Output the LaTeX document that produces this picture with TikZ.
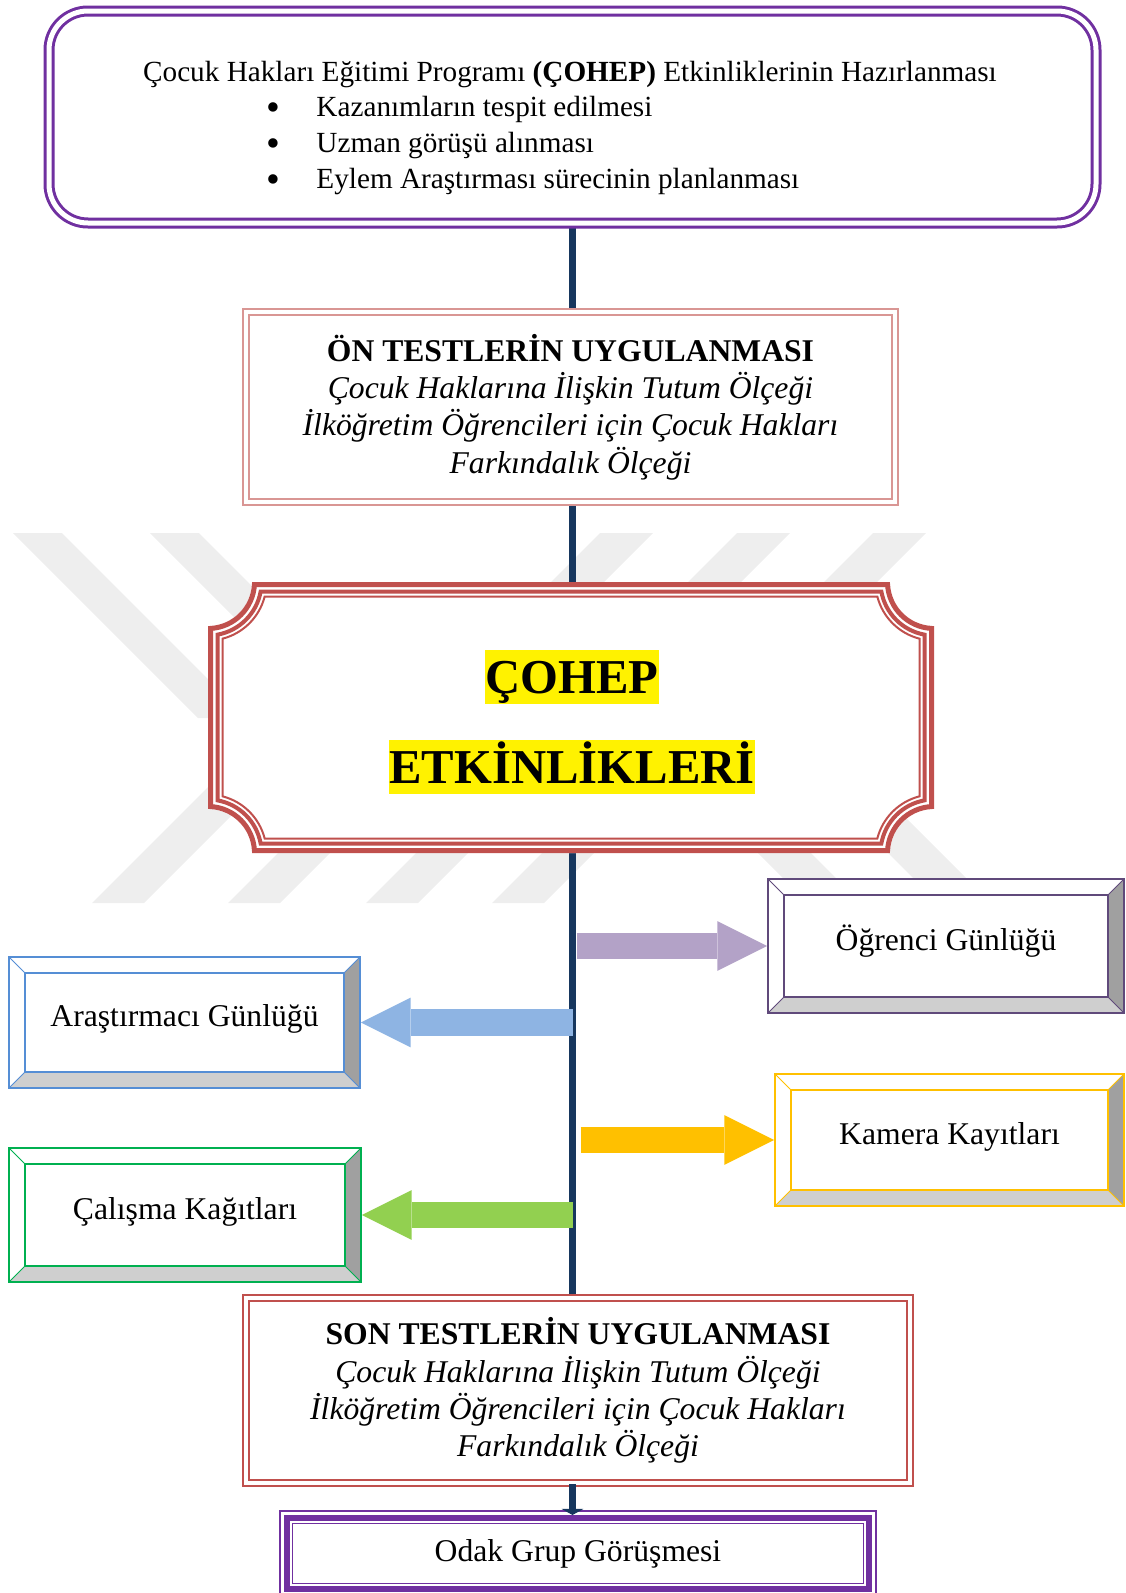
\documentclass[tikz,border=0pt]{standalone}
\usepackage{fontspec}
\setmainfont{Liberation Serif}
\usetikzlibrary{arrows.meta,calc}
\pgfdeclarelayer{wm}
\pgfdeclarelayer{bg}
\pgfsetlayers{wm,bg,main}
\def\px{0.4107pt}
\definecolor{spinecol}{HTML}{17375E}
\definecolor{prepcol}{HTML}{7030A0}
\definecolor{oncol}{HTML}{D99694}
\definecolor{chepcol}{HTML}{C0504D}
\definecolor{ogrcol}{HTML}{604A7B}
\definecolor{ograrr}{HTML}{B3A2C7}
\definecolor{aracol}{HTML}{558ED5}
\definecolor{araarr}{HTML}{8EB4E3}
\definecolor{kamcol}{HTML}{FFC000}
\definecolor{calcol}{HTML}{00B050}
\definecolor{calarr}{HTML}{92D050}
\definecolor{bevright}{HTML}{A0A0A0}
\definecolor{bevbottom}{HTML}{CFCFCF}
\definecolor{wmcol}{HTML}{EEEEEE}
\tikzset{
  boxsize/.style 2 args={minimum width=#1*\px, minimum height=#2*\px, inner sep=0pt},
  spine/.style={draw=spinecol, line width=7*\px},
  wmark/.style={fill=wmcol},
  bodytext/.style={font=\fontsize{13}{15.3}\selectfont},
  toptext/.style={font=\fontsize{12}{14.5}\selectfont, inner sep=0pt},
  fat/.style={draw=#1, line width=10.7pt, -{Triangle[length=20.5pt, width=20.5pt, line width=0pt]}},
  hl/.style={fill=yellow, inner sep=0pt, font=\fontsize{20}{24}\selectfont\bfseries, text height=17.8pt, text depth=4.3pt},
  bevelbox/.style={draw=#1, fill=white, line width=1.6*\px, bodytext, text height=6pt, text depth=2.7pt,
    path picture={
      \fill[bevright] (path picture bounding box.north east) -- (path picture bounding box.south east)
        -- ($(path picture bounding box.south east)+(-16,-16)$) -- ($(path picture bounding box.north east)+(-16,16)$) -- cycle;
      \fill[bevbottom] (path picture bounding box.south west) -- (path picture bounding box.south east)
        -- ($(path picture bounding box.south east)+(-16,-16)$) -- ($(path picture bounding box.south west)+(16,-16)$) -- cycle;
      \draw[#1, line width=1.6*\px] ($(path picture bounding box.north west)+(16,16)$) rectangle ($(path picture bounding box.south east)+(-16,-16)$);
      \draw[#1, line width=1*\px] (path picture bounding box.north west) -- ++(16,16)
        (path picture bounding box.north east) -- ++(-16,16)
        (path picture bounding box.south west) -- ++(16,-16)
        (path picture bounding box.south east) -- ++(-16,-16);
    }},
  testbox/.style={draw=#1, fill=white, line width=2.2*\px, double=white, double distance=3.6*\px, bodytext, align=center},
}
\newcommand\itembullet{\llap{\raisebox{-1.9pt}{\scalebox{1.35}{\textbullet}}\hspace{15pt}}}
% frame of the activities box, #1 = inset, #2 = path options
\newcommand\plaque[2]{%
  \pgfmathsetmacro\pR{44+#1}%
  \pgfmathsetmacro\pH{sqrt(\pR*\pR-#1*#1)}%
  \pgfmathsetmacro\pA{atan2(#1,\pH)}%
  \path[#2] (208+#1,582+\pH) arc[start angle=90-\pA, end angle=\pA, radius=\pR]
    -- (934-\pH,582+#1) arc[start angle=180-\pA, end angle=90+\pA, radius=\pR]
    -- (934-#1,853-\pH) arc[start angle=270-\pA, end angle=180+\pA, radius=\pR]
    -- (208+\pH,853-#1) arc[start angle=360-\pA, end angle=270+\pA, radius=\pR]
    -- cycle;}
\begin{document}
\begin{tikzpicture}[x=\px, y=-\px]
\useasboundingbox (0,0) rectangle (1125,1593);
% watermark
\begin{pgfonlayer}{wm}
\foreach \a in {13,150} \fill[wmark] (\a,533) -- (\a+49,533) -- (\a+234,718) -- (\a+185,718) -- cycle;
\foreach \a in {600,737,873} \fill[wmark] (\a,533) -- (\a+53,533) -- (\a-132,718) -- (\a-185,718) -- cycle;
\foreach \a in {92,228,366,492} \fill[wmark] (\a,903) -- (\a+52,903) -- (\a+237,718) -- (\a+185,718) -- cycle;
\foreach \a in {808,938} \fill[wmark] (\a,903) -- (\a+53,903) -- (\a-132,718) -- (\a-185,718) -- cycle;
\end{pgfonlayer}

% preparation box
\node[draw=prepcol, fill=white, line width=3*\px, double=white, double distance=5*\px, rounded corners=16pt, boxsize={1047}{212}] (prep) at (572.5,117) {};
\node[toptext, anchor=base] (preptitle) at (570,81) {Çocuk Hakları Eğitimi Programı \textbf{(ÇOHEP)} Etkinliklerinin Hazırlanması};
\node[toptext, anchor=base west] (item1) at (316,116) {\itembullet Kazanımların tespit edilmesi};
\node[toptext, anchor=base west] (item2) at (316,152) {\itembullet Uzman görüşü alınması};
\node[toptext, anchor=base west] (item3) at (316,188) {\itembullet Eylem Araştırması sürecinin planlanması};

% pre tests
\node[testbox=oncol, boxsize={649}{190}] (on) at (570.5,407) {\textbf{ÖN TESTLERİN UYGULANMASI}\\ \textit{Çocuk Haklarına İlişkin Tutum Ölçeği}\\ \textit{İlköğretim Öğrencileri için Çocuk Hakları}\\ \textit{Farkındalık Ölçeği}};

% activities
\plaque{0}{fill=white}
\plaque{2.5}{draw=chepcol, line width=5*\px}
\plaque{9.5}{draw=chepcol, line width=4*\px}
\plaque{14.5}{draw=chepcol, line width=2*\px}
\node[boxsize={726}{271}] (chep) at (571,717.5) {};
\node[hl] (cohep) at (572,677) {ÇOHEP};
\node[hl] (etk) at (572,767) {ETKİNLİKLERİ};

% data sources
\node[bevelbox=ogrcol, boxsize={356}{134}] (ogr) at (946,946) {Öğrenci Günlüğü};
\node[bevelbox=aracol, boxsize={351}{131}] (ara) at (184.5,1022.5) {Araştırmacı Günlüğü};
\node[bevelbox=kamcol, boxsize={349}{132}] (kam) at (949.5,1140) {Kamera Kayıtları};
\node[bevelbox=calcol, boxsize={352}{134}] (cal) at (185,1215) {Çalışma Kağıtları};

% post tests
\node[testbox=chepcol, boxsize={664}{185}] (son) at (578,1390.5) {\textbf{SON TESTLERİN UYGULANMASI}\\ \textit{Çocuk Haklarına İlişkin Tutum Ölçeği}\\ \textit{İlköğretim Öğrencileri için Çocuk Hakları}\\ \textit{Farkındalık Ölçeği}};

% focus group
\node[draw=prepcol, fill=white, line width=6*\px, outer sep=0pt, bodytext, boxsize={582}{71}] (odak) at (578,1553.5) {Odak Grup Görüşmesi};
\draw[prepcol, line width=1.5*\px] ($(odak.north west)+(-7,-7)$) rectangle ($(odak.south east)+(7,7)$);
\draw[prepcol, line width=1.5*\px] ($(odak.north west)+(5.5,5.5)$) rectangle ($(odak.south east)+(-5.5,-5.5)$);

% spine
\begin{pgfonlayer}{bg}
\draw[spine] (prep.south) -- (prep.south |- on.north);
\draw[spine] (prep.south |- on.south) -- (prep.south |- chep.north);
\draw[spine] (prep.south |- chep.south) -- (prep.south |- son.north);
\end{pgfonlayer}
\draw[spine, -{Triangle[width=9pt, length=2.5pt, line width=0pt]}] (prep.south |- son.south) -- ($(prep.south |- odak.north)+(0,-3)$);

% arrows to the data sources
\draw[fat=ograrr] ($(prep.south |- ogr.west)+(4,0)$) -- (ogr.west);
\draw[fat=araarr] (prep.south |- ara.east) -- (ara.east);
\draw[fat=kamcol] ($(prep.south |- kam.west)+(8,0)$) -- (kam.west);
\draw[fat=calarr] (prep.south |- cal.east) -- (cal.east);
\end{tikzpicture}
\end{document}
